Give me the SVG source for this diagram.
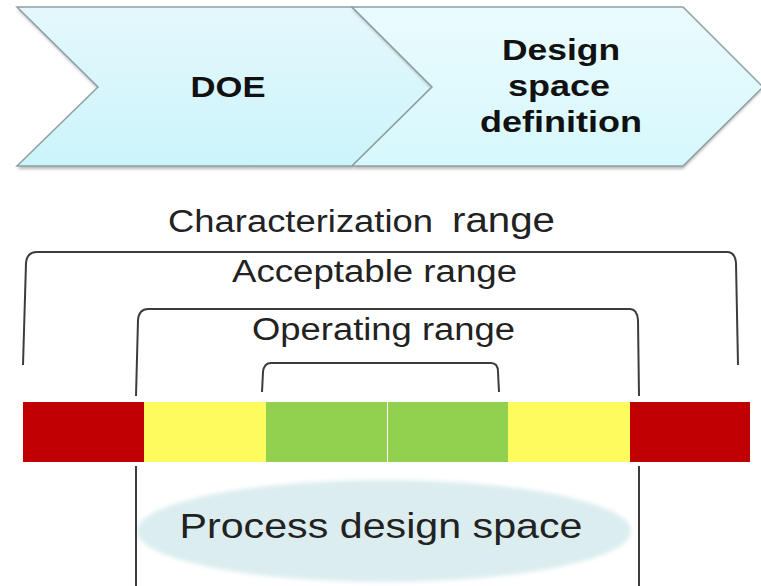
<svg xmlns="http://www.w3.org/2000/svg" width="761" height="586" viewBox="0 0 761 586">
  <defs>
    <linearGradient id="chev1" x1="0" y1="0" x2="0" y2="1">
      <stop offset="0" stop-color="#e4f8fc"/>
      <stop offset="1" stop-color="#ccf4fb"/>
    </linearGradient>
    <linearGradient id="chev2" x1="0" y1="0" x2="0" y2="1">
      <stop offset="0" stop-color="#ebfbfd"/>
      <stop offset="1" stop-color="#d6f8fc"/>
    </linearGradient>
    <filter id="shadow" x="-5%" y="-10%" width="110%" height="130%">
      <feGaussianBlur stdDeviation="1.5"/>
    </filter>
    <filter id="soft" x="-5%" y="-10%" width="110%" height="120%">
      <feGaussianBlur stdDeviation="2"/>
    </filter>
  </defs>
  <style>
    .chev { stroke: #8da0a4; stroke-width: 1.5; stroke-linejoin: miter; }
    .shd { fill: #b8b8b8; filter: url(#shadow); }
    .bold { font-family: "Liberation Sans", Arial, sans-serif; font-weight: bold; fill: #111; }
    .lbl { font-family: "Liberation Sans", Arial, sans-serif; fill: #222; }
    .br { fill: none; stroke: #3c3c3c; stroke-width: 2; }
  </style>
  <rect width="761" height="586" fill="#ffffff"/>

  <g id="chevron-doe">
    <path class="shd" d="M17,9 L352,9 L432,89 L352,169 L17,169 L98,89 Z"/>
    <path class="chev" fill="url(#chev1)" d="M17,7 L352,7 L432,87 L352,166 L17,166 L98,87 Z"/>
    <text class="bold" x="228" y="97" font-size="30" text-anchor="middle" textLength="75" lengthAdjust="spacingAndGlyphs">DOE</text>
  </g>

  <g id="chevron-design-space-definition">
    <path class="shd" d="M352,9 L683,9 L763,89 L683,169 L352,169 L432,89 Z"/>
    <path class="chev" fill="url(#chev2)" d="M352,7 L683,7 L763,87 L683,166 L352,166 L432,87 Z"/>
    <text class="bold" x="561" y="60" font-size="29" text-anchor="middle" textLength="118" lengthAdjust="spacingAndGlyphs">Design</text>
    <text class="bold" x="559" y="96" font-size="29" text-anchor="middle" textLength="102" lengthAdjust="spacingAndGlyphs">space</text>
    <text class="bold" x="561" y="132" font-size="29" text-anchor="middle" textLength="162" lengthAdjust="spacingAndGlyphs">definition</text>
  </g>

  <g id="process-design-space">
    <ellipse cx="384" cy="531" rx="247" ry="51" fill="#dcedf0" filter="url(#soft)"/>
    <text class="lbl" x="381" y="538" font-size="35" text-anchor="middle" textLength="403" lengthAdjust="spacingAndGlyphs">Process design space</text>
  </g>

  <g id="connectors">
    <path class="br" d="M23,365 L26,263 Q27,252 37,252 L727,252 Q735,252 736,263 L738,365"/>
    <path class="br" d="M136,396 L138,320 Q139,309 148,309 L630,309 Q637,309 638,320 L639,396"/>
    <path class="br" d="M136,466 L136,586 M639,466 L639,586"/>
    <path class="br" d="M262,392 L263,372 Q264,363 271,363 L491,363 Q498,363 498,372 L499,392"/>
  </g>

  <g id="characterization-range">
    <text class="lbl" x="168" y="232" font-size="31" textLength="265" lengthAdjust="spacingAndGlyphs">Characterization</text>
    <text class="lbl" x="452" y="232" font-size="35" textLength="103" lengthAdjust="spacingAndGlyphs">range</text>
  </g>
  <g id="acceptable-range">
    <text class="lbl" x="232" y="282" font-size="31" textLength="285" lengthAdjust="spacingAndGlyphs">Acceptable range</text>
  </g>
  <g id="operating-range">
    <text class="lbl" x="252" y="340" font-size="31" textLength="263" lengthAdjust="spacingAndGlyphs">Operating range</text>
  </g>

  <g id="range-bar">
    <rect x="23" y="402" width="121" height="60" fill="#c00000"/>
    <rect x="144" y="402" width="122" height="60" fill="#fefb5e"/>
    <rect x="266" y="402" width="121" height="60" fill="#92d050"/>
    <rect x="388" y="402" width="120" height="60" fill="#92d050"/>
    <rect x="508" y="402" width="122" height="60" fill="#fefb5e"/>
    <rect x="630" y="402" width="120" height="60" fill="#c00000"/>
  </g>
</svg>
